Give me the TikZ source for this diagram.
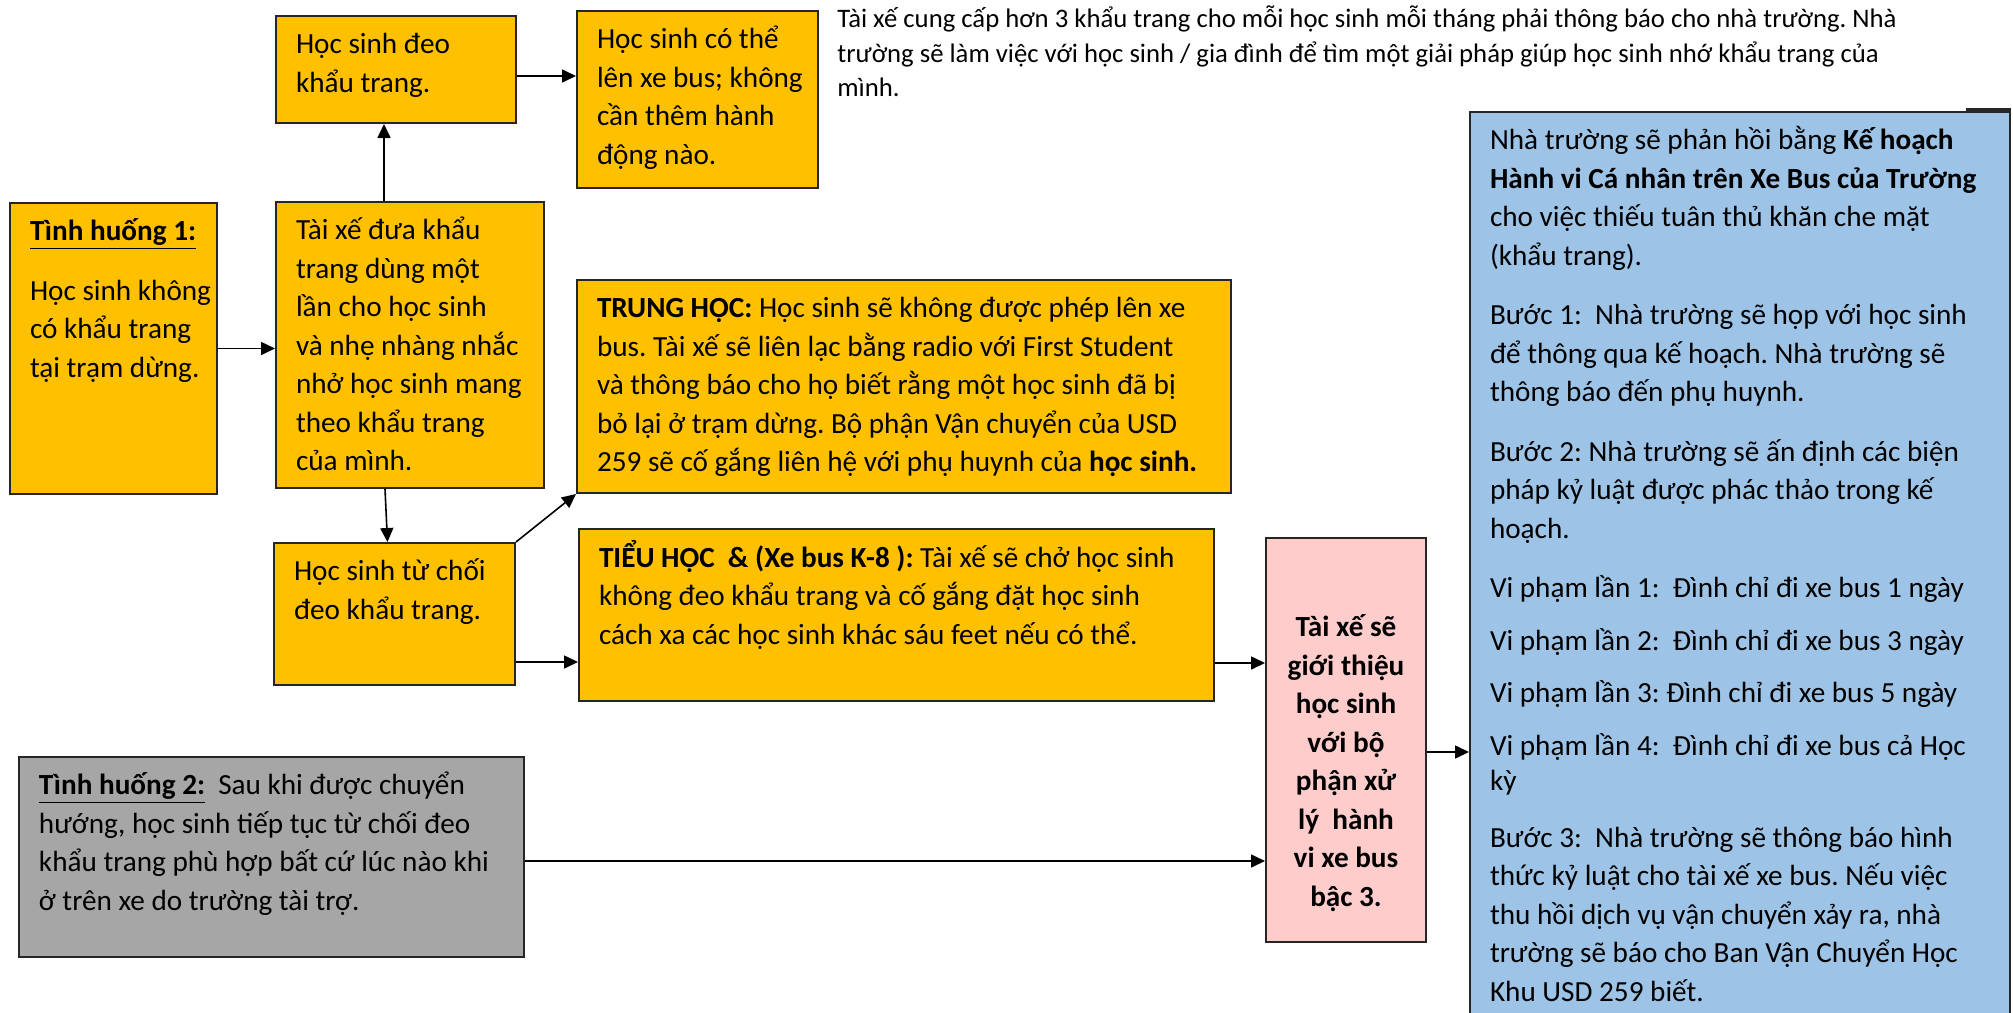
\documentclass[tikz,border=0pt]{standalone}
\usepackage{fontspec}
\setmainfont{Carlito}
\usetikzlibrary{arrows.meta}

\definecolor{gold}{HTML}{FFC000}
\definecolor{greyfill}{HTML}{A6A6A6}
\definecolor{pinkfill}{HTML}{FFCCCC}
\definecolor{bluefill}{HTML}{9DC3E6}

\newdimen\px \px=0.5pt
\frenchspacing
\tikzstyle{block}=[draw=black!85,line width=1pt,anchor=north west,inner xsep=10pt,inner ysep=5.5pt,font=\fontsize{14.6}{19.25}\selectfont]
\tikzstyle{note}=[anchor=north west,inner sep=0pt,font=\fontsize{13.35}{17.25}\selectfont]
\tikzstyle{arrow} = [draw,line width=0.8pt,-{Triangle[length=7pt,width=6.5pt]}]
\newcommand{\boxtext}[3]{\parbox[c][#2\px][t]{#1\px}{\raggedright\rightskip=-20\px plus 1fil\strut #3}}

\begin{document}
\begin{tikzpicture}[x=0.5pt,y=-0.5pt]
    \useasboundingbox (0,0) rectangle (2013,1012);
    % First the boxes of situation 1
    \node[block,fill=gold] (tinh1) at (9,202) {\boxtext{167}{269}{\underline{\textbf{Tình huống 1:}}\\[21\px]
        Học sinh không\\ có khẩu trang\\ tại trạm dừng.}};
    \node[block,fill=gold] (deo) at (275,15) {\boxtext{200}{85}{Học sinh đeo\\ khẩu trang.}};
    \node[block,fill=gold] (cothe) at (576,10) {\boxtext{201}{155}{Học sinh có thể\\ lên xe bus; không\\ cần thêm hành\\ động nào.}};
    \node[block,fill=gold] (taixe) at (275,201) {\boxtext{228}{264}{Tài xế đưa khẩu\\ trang dùng một\\ lần cho học sinh\\
        và nhẹ nhàng nhắc\\ nhở học sinh mang\\ theo khẩu trang\\ của mình.}};
    \node[block,fill=gold] (trunghoc) at (576,279) {\boxtext{614}{191}{\textbf{TRUNG HỌC:} Học sinh sẽ không được phép lên xe\\
        bus. Tài xế sẽ liên lạc bằng radio với First Student\\ và thông báo cho họ biết rằng một học sinh đã bị\\
        bỏ lại ở trạm dừng. Bộ phận Vận chuyển của USD\\ 259 sẽ cố gắng liên hệ với phụ huynh của \textbf{học sinh.}}};
    \node[block,fill=gold] (tuchoi) at (273,542) {\boxtext{201}{120}{Học sinh từ chối\\ đeo khẩu trang.}};
    \node[block,fill=gold] (tieuhoc) at (578,528) {\boxtext{595}{150}{\textbf{TIỂU HỌC\ \ \& (Xe bus K-8 ):} Tài xế sẽ chở học sinh\\
        không đeo khẩu trang và cố gắng đặt học sinh\\ cách xa các học sinh khác sáu feet nếu có thể.}};
    % Situation 2 and the referral
    \node[block,fill=greyfill] (tinh2) at (18,756) {\boxtext{465}{178}{\underline{\textbf{Tình huống 2:}}\ \ Sau khi được chuyển\\
        hướng, học sinh tiếp tục từ chối đeo\\ khẩu trang phù hợp bất cứ lúc nào khi\\ ở trên xe do trường tài trợ.}};
    \node[block,fill=pinkfill] (bac3) at (1265,537) {\parbox[c][382\px][t]{120\px}{\centering\bfseries\vspace*{61\px}\strut
        Tài xế sẽ\\ giới thiệu\\ học sinh\\ với bộ\\ phận xử\\ lý\ \ hành\\ vi xe bus\\ bậc 3.}};
    \node[block,fill=bluefill] (kehoach) at (1469,110.6) {\boxtext{500}{920}{Nhà trường sẽ phản hồi bằng \textbf{Kế hoạch}\\
        \textbf{Hành vi Cá nhân trên Xe Bus của Trường}\\ cho việc thiếu tuân thủ khăn che mặt\\ (khẩu trang).\\[21\px]
        Bước 1:\ \ Nhà trường sẽ họp với học sinh\\ để thông qua kế hoạch. Nhà trường sẽ\\ thông báo đến phụ huynh.\\[21\px]
        Bước 2: Nhà trường sẽ ấn định các biện\\ pháp kỷ luật được phác thảo trong kế\\ hoạch.\\[21\px]
        Vi phạm lần 1:\ \ Đình chỉ đi xe bus 1 ngày\\[14\px]
        Vi phạm lần 2:\ \ Đình chỉ đi xe bus 3 ngày\\[14\px]
        Vi phạm lần 3: Đình chỉ đi xe bus 5 ngày\\[14\px]
        Vi phạm lần 4:\ \ Đình chỉ đi xe bus cả Học\\[-3\px] kỳ\\[18\px]
        Bước 3:\ \ Nhà trường sẽ thông báo hình\\ thức kỷ luật cho tài xế xe bus. Nếu việc\\
        thu hồi dịch vụ vận chuyển xảy ra, nhà\\ trường sẽ báo cho Ban Vận Chuyển Học\\ Khu USD 259 biết.}};
    \draw[black!85,line width=1.5pt] ([shift={(-45,-1.5)}]kehoach.north east) -- ([shift={(0,-1.5)}]kehoach.north east);
    \node[note] (ghichu) at (837,3) {\parbox[t]{1160\px}{\raggedright\strut Tài xế cung cấp hơn 3 khẩu trang cho mỗi học sinh mỗi tháng phải thông báo cho nhà trường. Nhà\\
        trường sẽ làm việc với học sinh / gia đình để tìm một giải pháp giúp học sinh nhớ khẩu trang của\\ mình.}};
    % Start points of the arrows
    \coordinate (s1) at (tinh1.east);
    \coordinate (s2) at ([yshift=-3.25pt]deo.east);
    \coordinate (s3) at ([yshift=12pt]tuchoi.south east);
    \coordinate (s4) at ([yshift=-24pt]tieuhoc.east);
    \coordinate (s5) at ([yshift=-2pt]tinh2.east);
    \coordinate (s6) at ([yshift=-6pt]bac3.east);
    \coordinate (s7) at ([xshift=-13pt]taixe.north);
    % Connect the boxes with arrows
    \foreach \source/\dest in {s1/taixe.west, s2/cothe.west, s3/tieuhoc.west, s4/bac3.west, s5/bac3.west, s6/kehoach.west}
        \path[arrow] (\source) -- (\source -| \dest);
    \path[arrow] (s7) -- (s7 |- deo.south);
    \path[arrow] ([xshift=-12.5pt]taixe.south) -- ([xshift=-3.5pt]tuchoi.north);
    \path[arrow] (tuchoi.north east) -- (trunghoc.south west);
\end{tikzpicture}
\end{document}
